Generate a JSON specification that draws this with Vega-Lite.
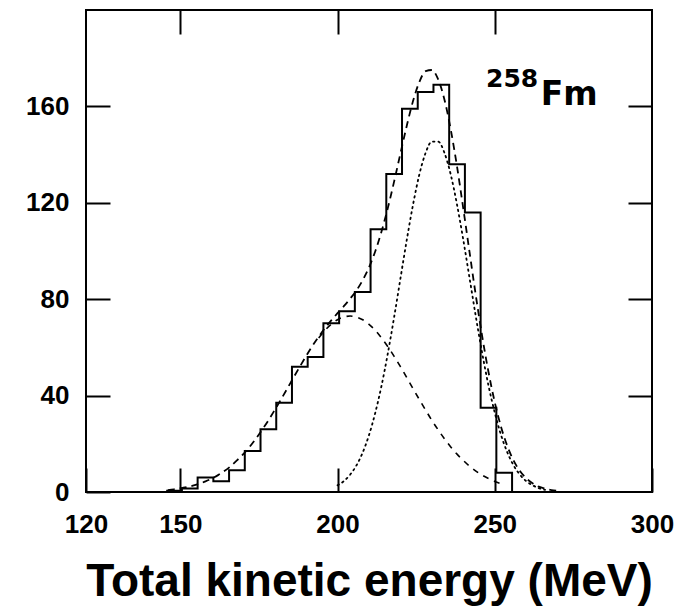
{
  "$schema": "https://vega.github.io/schema/vega-lite/v6.json",
  "width": 566,
  "height": 482,
  "autosize": {"type": "none"},
  "padding": {"left": 86, "top": 10, "right": 39, "bottom": 119},
  "background": "white",
  "config": {
    "view": {"stroke": "black", "strokeWidth": 2},
    "font": "Liberation Sans",
    "axis": {
      "grid": false,
      "domain": false,
      "tickColor": "black",
      "tickWidth": 2,
      "labelColor": "black",
      "labelFont": "Liberation Sans",
      "labelFontWeight": "bold",
      "labelFontSize": 26,
      "labelFlush": false,
      "labelOverlap": false,
      "titleColor": "black"
    }
  },
  "datasets": {
    "hist": [
      {"tke": 145.5, "count": 0.5},
      {"tke": 150.5, "count": 1.5},
      {"tke": 155.5, "count": 6},
      {"tke": 160.5, "count": 4.5},
      {"tke": 165.5, "count": 9},
      {"tke": 170.5, "count": 17},
      {"tke": 175.5, "count": 26},
      {"tke": 180.5, "count": 37},
      {"tke": 185.5, "count": 52},
      {"tke": 190.5, "count": 56},
      {"tke": 195.5, "count": 70},
      {"tke": 200.5, "count": 75},
      {"tke": 205.5, "count": 83},
      {"tke": 210.5, "count": 109},
      {"tke": 215.5, "count": 132},
      {"tke": 220.5, "count": 159},
      {"tke": 225.5, "count": 166},
      {"tke": 230.5, "count": 169},
      {"tke": 235.5, "count": 136},
      {"tke": 240.5, "count": 116},
      {"tke": 245.5, "count": 35},
      {"tke": 250.5, "count": 8},
      {"tke": 255.5, "count": 0}
    ],
    "total": [
      {"tke": 146, "count": 0.8}, {"tke": 148, "count": 1.1}, {"tke": 150, "count": 1.5},
      {"tke": 152, "count": 2.0}, {"tke": 154, "count": 2.6}, {"tke": 156, "count": 3.4},
      {"tke": 158, "count": 4.4}, {"tke": 160, "count": 5.6}, {"tke": 162, "count": 7.0},
      {"tke": 164, "count": 8.7}, {"tke": 166, "count": 10.7}, {"tke": 168, "count": 13.1},
      {"tke": 170, "count": 15.7}, {"tke": 172, "count": 18.7}, {"tke": 174, "count": 22.1},
      {"tke": 176, "count": 25.8}, {"tke": 178, "count": 29.7}, {"tke": 180, "count": 34.0},
      {"tke": 182, "count": 38.4}, {"tke": 184, "count": 42.9}, {"tke": 186, "count": 47.5},
      {"tke": 188, "count": 52.0}, {"tke": 190, "count": 56.4}, {"tke": 192, "count": 60.6},
      {"tke": 194, "count": 64.4}, {"tke": 196, "count": 68.0}, {"tke": 198, "count": 71.2},
      {"tke": 200, "count": 74.2}, {"tke": 202, "count": 77.1}, {"tke": 204, "count": 80.2},
      {"tke": 206, "count": 83.6}, {"tke": 208, "count": 87.9}, {"tke": 210, "count": 93.2},
      {"tke": 212, "count": 99.9}, {"tke": 214, "count": 108.2}, {"tke": 216, "count": 117.9},
      {"tke": 218, "count": 128.9}, {"tke": 220, "count": 140.5}, {"tke": 222, "count": 151.9},
      {"tke": 224, "count": 162.2}, {"tke": 226, "count": 170.1}, {"tke": 228, "count": 174.6},
      {"tke": 230, "count": 175.1}, {"tke": 232, "count": 171.2}, {"tke": 234, "count": 162.8},
      {"tke": 236, "count": 150.4}, {"tke": 238, "count": 135.0}, {"tke": 240, "count": 117.5},
      {"tke": 242, "count": 99.3}, {"tke": 244, "count": 81.3}, {"tke": 246, "count": 64.6},
      {"tke": 248, "count": 49.8}, {"tke": 250, "count": 37.2}, {"tke": 252, "count": 27.0},
      {"tke": 254, "count": 19.0}, {"tke": 256, "count": 13.0}, {"tke": 258, "count": 8.7},
      {"tke": 260, "count": 5.7}, {"tke": 262, "count": 3.6}, {"tke": 264, "count": 2.2},
      {"tke": 266, "count": 1.4}, {"tke": 268, "count": 0.8}, {"tke": 270, "count": 0.5}
    ],
    "low": [
      {"tke": 194, "count": 63.9}, {"tke": 196, "count": 67.1}, {"tke": 198, "count": 69.6},
      {"tke": 200, "count": 71.5}, {"tke": 202, "count": 72.6}, {"tke": 204, "count": 73.0},
      {"tke": 206, "count": 72.6}, {"tke": 208, "count": 71.5}, {"tke": 210, "count": 69.6},
      {"tke": 212, "count": 67.1}, {"tke": 214, "count": 63.9}, {"tke": 216, "count": 60.3},
      {"tke": 218, "count": 56.3}, {"tke": 220, "count": 52.0}, {"tke": 222, "count": 47.5},
      {"tke": 224, "count": 42.9}, {"tke": 226, "count": 38.4}, {"tke": 228, "count": 34.0},
      {"tke": 230, "count": 29.7}, {"tke": 232, "count": 25.8}, {"tke": 234, "count": 22.1},
      {"tke": 236, "count": 18.7}, {"tke": 238, "count": 15.7}, {"tke": 240, "count": 13.1},
      {"tke": 242, "count": 10.7}, {"tke": 244, "count": 8.7}, {"tke": 246, "count": 7.0},
      {"tke": 248, "count": 5.6}, {"tke": 250, "count": 4.4}, {"tke": 252, "count": 3.4}
    ],
    "high": [
      {"tke": 200, "count": 2.8}, {"tke": 202, "count": 4.5}, {"tke": 204, "count": 7.2},
      {"tke": 206, "count": 11.0}, {"tke": 208, "count": 16.4}, {"tke": 210, "count": 23.6},
      {"tke": 212, "count": 32.9}, {"tke": 214, "count": 44.2}, {"tke": 216, "count": 57.6},
      {"tke": 218, "count": 72.6}, {"tke": 220, "count": 88.6}, {"tke": 222, "count": 104.5},
      {"tke": 224, "count": 119.2}, {"tke": 226, "count": 131.7}, {"tke": 228, "count": 140.7},
      {"tke": 230, "count": 145.4}, {"tke": 232, "count": 145.4}, {"tke": 234, "count": 140.7},
      {"tke": 236, "count": 131.7}, {"tke": 238, "count": 119.2}, {"tke": 240, "count": 104.5},
      {"tke": 242, "count": 88.6}, {"tke": 244, "count": 72.6}, {"tke": 246, "count": 57.6},
      {"tke": 248, "count": 44.2}, {"tke": 250, "count": 32.9}, {"tke": 252, "count": 23.6},
      {"tke": 254, "count": 16.4}, {"tke": 256, "count": 11.0}, {"tke": 258, "count": 7.2},
      {"tke": 260, "count": 4.5}, {"tke": 262, "count": 2.8}, {"tke": 264, "count": 1.6},
      {"tke": 266, "count": 0.9}
    ]
  },
  "layer": [
    {
      "data": {"name": "hist"},
      "mark": {"type": "line", "interpolate": "step-after", "color": "black", "strokeWidth": 2},
      "encoding": {
        "x": {
          "field": "tke", "type": "quantitative",
          "scale": {"domain": [120, 300], "nice": false, "zero": false},
          "axis": {
            "orient": "bottom", "values": [120, 150, 200, 250, 300], "tickSize": -24,
            "labelPadding": 43,
            "title": "Total kinetic energy (MeV)", "titleFont": "Liberation Sans",
            "titleFontSize": 46, "titleFontWeight": "bold", "titlePadding": 22
          }
        },
        "y": {
          "field": "count", "type": "quantitative",
          "scale": {"domain": [0, 200], "nice": false},
          "axis": {"orient": "left", "values": [0, 40, 80, 120, 160], "tickSize": -24, "labelPadding": 41, "title": null}
        }
      }
    },
    {
      "data": {"name": "total"},
      "mark": {"type": "line", "interpolate": "monotone", "color": "black", "strokeWidth": 1.8, "strokeDash": [7, 5]},
      "encoding": {
        "x": {
          "field": "tke", "type": "quantitative",
          "scale": {"domain": [120, 300], "nice": false, "zero": false},
          "axis": {"orient": "top", "values": [150, 200, 250], "tickSize": -24, "labels": false, "title": null}
        },
        "y": {
          "field": "count", "type": "quantitative",
          "scale": {"domain": [0, 200], "nice": false},
          "axis": {"orient": "right", "values": [40, 80, 120, 160], "tickSize": -24, "labels": false, "title": null}
        }
      }
    },
    {
      "data": {"name": "low"},
      "mark": {"type": "line", "interpolate": "monotone", "color": "black", "strokeWidth": 1.6, "strokeDash": [6, 6]},
      "encoding": {
        "x": {"field": "tke", "type": "quantitative", "scale": {"domain": [120, 300], "nice": false, "zero": false}, "axis": null},
        "y": {"field": "count", "type": "quantitative", "scale": {"domain": [0, 200], "nice": false}, "axis": null}
      }
    },
    {
      "data": {"name": "high"},
      "mark": {"type": "line", "interpolate": "monotone", "color": "black", "strokeWidth": 1.8, "strokeDash": [1.5, 4], "strokeCap": "round"},
      "encoding": {
        "x": {"field": "tke", "type": "quantitative", "scale": {"domain": [120, 300], "nice": false, "zero": false}, "axis": null},
        "y": {"field": "count", "type": "quantitative", "scale": {"domain": [0, 200], "nice": false}, "axis": null}
      }
    },
    {
      "data": {"values": [{"label": "258"}]},
      "mark": {"type": "text", "font": "DejaVu Sans", "fontWeight": "bold", "fontSize": 25, "align": "right", "baseline": "alphabetic", "color": "black"},
      "encoding": {
        "text": {"field": "label"},
        "x": {"datum": 263.8, "type": "quantitative", "axis": null},
        "y": {"datum": 168, "type": "quantitative", "axis": null}
      }
    },
    {
      "data": {"values": [{"label": "Fm"}]},
      "mark": {"type": "text", "font": "DejaVu Sans", "fontWeight": "bold", "fontSize": 33, "align": "left", "baseline": "alphabetic", "color": "black"},
      "encoding": {
        "text": {"field": "label"},
        "x": {"datum": 264.6, "type": "quantitative", "axis": null},
        "y": {"datum": 160.6, "type": "quantitative", "axis": null}
      }
    }
  ],
  "resolve": {"axis": {"x": "independent", "y": "independent"}}
}
